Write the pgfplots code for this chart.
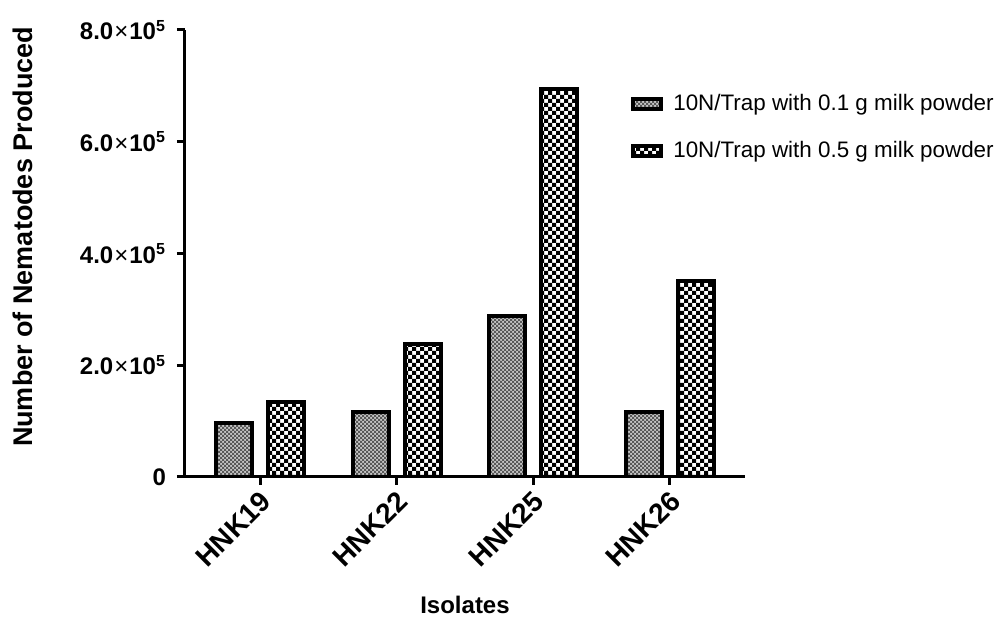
\documentclass[border=0pt]{standalone}
\usepackage{pgfplots}
\pgfplotsset{compat=1.18}
\usepackage{fontspec}
\setmainfont{Liberation Sans}
\usetikzlibrary{patterns}
\pgfdeclarepatternformonly{finecheck}{\pgfqpoint{-0.05pt}{-0.05pt}}{\pgfqpoint{2.05pt}{2.05pt}}{\pgfqpoint{2pt}{2pt}}{%
 \pgfpathrectangle{\pgfpointorigin}{\pgfqpoint{1.05pt}{1.05pt}}%
 \pgfpathrectangle{\pgfqpoint{1pt}{1pt}}{\pgfqpoint{1.05pt}{1.05pt}}%
 \pgfusepath{fill}}
\pgfdeclarepatternformonly{coarsecheck}{\pgfqpoint{-0.05pt}{-0.05pt}}{\pgfqpoint{4.05pt}{4.05pt}}{\pgfqpoint{4pt}{4pt}}{%
 \pgfpathrectangle{\pgfpointorigin}{\pgfqpoint{2.05pt}{2.05pt}}%
 \pgfpathrectangle{\pgfqpoint{2pt}{2pt}}{\pgfqpoint{2.05pt}{2.05pt}}%
 \pgfusepath{fill}}
\newcommand{\sci}[1]{#1{\mdseries\kern0.5pt\texttimes\kern0.5pt}10\textsuperscript{5}}
\begin{document}
\begin{tikzpicture}
\useasboundingbox (-92.5pt,-71pt) rectangle (410pt,238.5pt);
\begin{axis}[
 at={(0,0)}, anchor=south west,
 scale only axis, width=280pt, height=223.5pt,
 xmin=-0.55, xmax=3.55, ymin=0, ymax=800000,
 axis x line*=bottom, axis y line*=left,
 axis line style={line width=1.5pt,-},
 every tick/.style={black, line width=1.5pt},
 tick align=outside,
 major tick length=4pt,
 xtick={0,1,2,3}, xticklabels={HNK19,HNK22,HNK25,HNK26},
 ytick={0,200000,400000,600000,800000},
 yticklabels={0, \sci{2.0}, \sci{4.0}, \sci{6.0}, \sci{8.0}},
 scaled y ticks=false,
 yticklabel style={font=\bfseries\fontsize{12}{14}\selectfont, xshift=-2pt},
 xticklabel style={font=\bfseries\fontsize{14}{16}\selectfont, rotate=45, anchor=north east, inner sep=1pt, xshift=-1pt},
 ylabel={Number of Nematodes Produced},
 xlabel={Isolates},
 ylabel style={font=\bfseries\fontsize{13.5}{15}\selectfont, at={(axis description cs:-0.289,0.537)}, anchor=center},
 xlabel style={font=\bfseries\fontsize{12}{14}\selectfont, at={(axis description cs:0.5,-0.286)}, anchor=center},
 ybar, bar width=0.263,
 legend style={at={(rel axis cs:0.782,0.874)}, anchor=north west, draw=none, fill=none,
   font=\fontsize{11.2}{13}\selectfont, row sep=9.5pt, legend cell align=left},
 legend image code/.code={\draw[#1, line width=2pt] (1pt,-2.5pt) rectangle (15pt,2.5pt); \path (0pt,0pt) (18pt,0pt);},
]
\addplot[draw=black, line width=2pt, fill=gray!45, postaction={pattern=finecheck, pattern color=black!65}, bar shift=-0.19]
 coordinates {(0,97000) (1,116000) (2,288000) (3,116000)};
\addlegendentry{10N/Trap with 0.1 g milk powder}
\addplot[draw=black, line width=2pt, fill=white, postaction={pattern=coarsecheck, pattern color=black}, bar shift=0.19]
 coordinates {(0,134000) (1,238000) (2,694000) (3,350000)};
\addlegendentry{10N/Trap with 0.5 g milk powder}
\end{axis}
\end{tikzpicture}
\end{document}
